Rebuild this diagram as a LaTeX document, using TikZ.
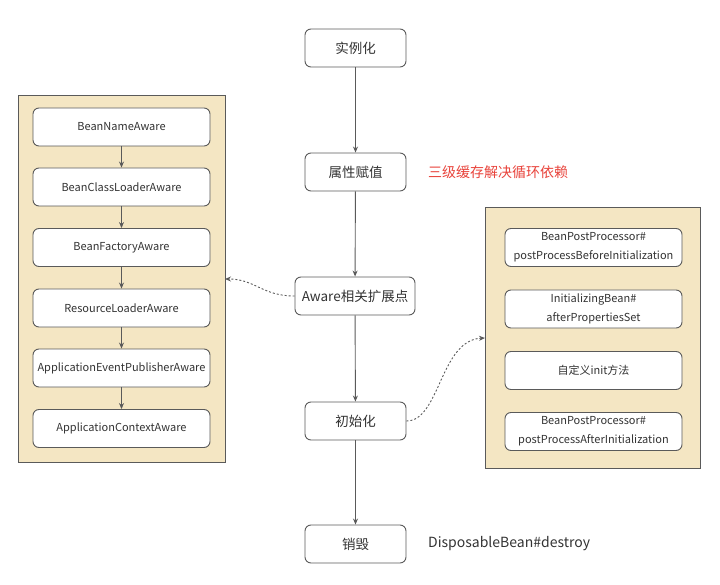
\documentclass[tikz,border=0pt]{standalone}
\usepackage{fontspec}
\setmainfont{Noto Sans CJK SC}
\usetikzlibrary{arrows.meta}
\definecolor{boxline}{HTML}{5A5A5A}
\definecolor{txt}{HTML}{333333}
\definecolor{beige}{HTML}{F4E6C3}
\definecolor{redtxt}{HTML}{E8433B}
\tikzset{
  mainbox/.style={draw=boxline, line width=0.9pt, rounded corners=6pt, fill=white, minimum width=101pt, minimum height=38pt, inner sep=0pt, text=txt, font=\fontsize{13.5}{16}\selectfont},
  subbox/.style={draw=boxline, line width=0.9pt, rounded corners=6pt, fill=white, minimum width=177pt, minimum height=38pt, inner sep=0pt, text=txt, font=\fontsize{11}{19}\selectfont, align=center},
  container/.style={draw=boxline, line width=0.9pt, fill=beige},
  flow/.style={draw=boxline, line width=0.9pt, -{Stealth[length=6pt,width=5pt]}},
  dashflow/.style={draw=boxline, line width=0.9pt, dash pattern=on 2pt off 2pt, -{Stealth[length=6pt,width=5pt]}},
}
\begin{document}
\begin{tikzpicture}[x=1pt,y=-1pt]
\useasboundingbox (0,0) rectangle (720,585);
% containers
\node[container, minimum width=207pt, minimum height=367pt, inner sep=0pt] (lc) at (121.5,278.5) {};
\node[container, minimum width=215pt, minimum height=261pt, inner sep=0pt] (rc) at (592.5,337.5) {};
% main flow
\node[mainbox] (inst) at (355.5,48) {实例化};
\node[mainbox] (prop) at (355.5,172) {属性赋值};
\node[mainbox, minimum width=120pt] (aw) at (355,296) {Aware相关扩展点};
\node[mainbox] (init) at (355.5,421) {初始化};
\node[mainbox] (dest) at (355.5,544) {销毁};
\node[text=redtxt, font=\fontsize{14}{16}\selectfont, anchor=west, inner sep=0pt] (red) at (428,172) {三级缓存解决循环依赖};
\node[text=txt, font=\fontsize{14}{16}\selectfont, anchor=west, inner sep=0pt] (disp) at (428,544) {DisposableBean\#destroy};
\draw[flow] (inst) -- (prop);
\draw[flow] (prop) -- (aw);
\draw[flow] (aw) -- (init);
\draw[flow] (init) -- (dest);
% left chain
\node[subbox] (l1) at (121.5,127) {BeanNameAware};
\node[subbox] (l2) at (121.5,187) {BeanClassLoaderAware};
\node[subbox] (l3) at (121.5,247.5) {BeanFactoryAware};
\node[subbox] (l4) at (121.5,308) {ResourceLoaderAware};
\node[subbox] (l5) at (121.5,368) {ApplicationEventPublisherAware};
\node[subbox] (l6) at (121.5,428.5) {ApplicationContextAware};
\draw[flow] (l1) -- (l2);
\draw[flow] (l2) -- (l3);
\draw[flow] (l3) -- (l4);
\draw[flow] (l4) -- (l5);
\draw[flow] (l5) -- (l6);
% right boxes
\node[subbox] (r1) at (593.5,247.5) {BeanPostProcessor\#\\postProcessBeforeInitialization};
\node[subbox] (r2) at (593.5,309) {InitializingBean\#\\afterPropertiesSet};
\node[subbox] (r3) at (593.5,370.5) {自定义init方法};
\node[subbox] (r4) at (593.5,431.5) {BeanPostProcessor\#\\postProcessAfterInitialization};
% dashed links
\coordinate (lt) at (225,279);
\coordinate (rt) at (485,338);
\draw[dashflow] (aw.west) .. controls (262,296) and (255,279) .. (lt);
\draw[dashflow] (init.east) .. controls (440,421) and (440,340) .. (rt);
\end{tikzpicture}
\end{document}
